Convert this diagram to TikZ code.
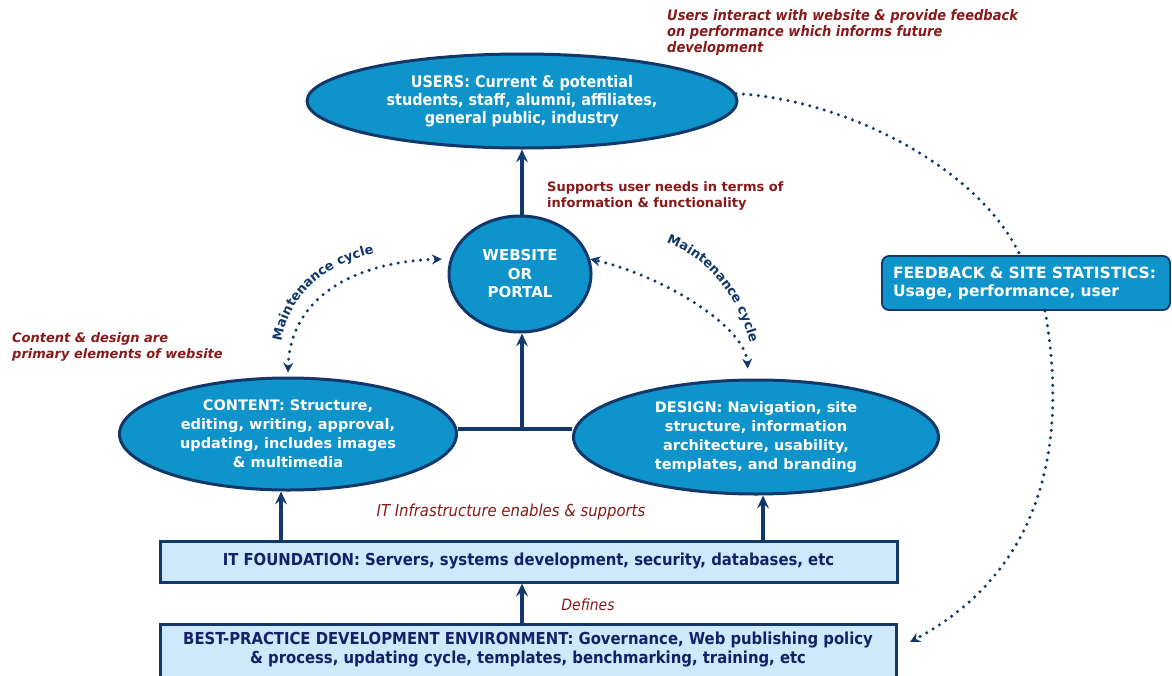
\documentclass[tikz,border=0pt]{standalone}
\usepackage{fontspec}
\setmainfont{DejaVu Sans}
\newfontfamily\cond{DejaVu Sans Condensed}
\usetikzlibrary{shapes.geometric,arrows.meta,decorations.text}
\definecolor{navy}{RGB}{18,56,107}
\definecolor{ellfill}{RGB}{14,148,202}
\definecolor{boxfill}{RGB}{205,233,251}
\definecolor{txtnavy}{RGB}{20,32,104}
\definecolor{darkred}{RGB}{135,25,25}
\newcommand\mclabelfont{\bfseries\fontsize{13}{15}\selectfont}
\begin{document}
\begin{tikzpicture}[x=1pt,y=-1pt,
  ell/.style={ellipse, draw=navy, line width=3pt, fill=ellfill, text=white, inner sep=0pt, align=center},
  fontv/.style={font=\bfseries\fontsize{14.5}{19}\selectfont},
  fontc/.style={font=\cond\bfseries\fontsize{16}{18}\selectfont},
  box/.style={rectangle, draw=navy, line width=3pt, fill=boxfill, text=txtnavy, align=center, font=\cond\bfseries\fontsize{16.5}{19}\selectfont},
  fbbox/.style={rectangle, rounded corners=7pt, draw=navy, line width=1.8pt, fill=ellfill, text=white, align=left, font=\bfseries\fontsize{15.5}{18}\selectfont},
  note/.style={text=darkred, align=left, inner sep=0pt},
  mclabel/.style={decorate, decoration={text along path, text={|\mclabelfont|Maintenance cycle}, text align=center, text color=navy}},
  line/.style={draw=navy, line width=3.4pt},
  arr/.style={line, -{Stealth[length=13pt,width=12pt,inset=5pt]}},
  dotted line/.style={draw=navy, line width=3.4pt, line cap=round, dash pattern=on 0pt off 7.5pt},
  dotarr/.style={dotted line, -{Stealth[length=10pt,width=10pt,inset=3.5pt]}},
  dotarrs/.style={dotted line, {Stealth[length=10pt,width=10pt,inset=3.5pt]}-{Stealth[length=10pt,width=10pt,inset=3.5pt]}}
]
\useasboundingbox (0,0) rectangle (1172,675);
\clip (0,0) rectangle (1172,675);

% ellipses
\node[ell, fontc, minimum width=430pt, minimum height=94pt] (users) at (522,101)
  {USERS: Current \& potential\\students, staff, alumni, affiliates,\\general public, industry};
\node[ell, font=\bfseries\fontsize{15}{18.5}\selectfont, minimum width=142pt, minimum height=116pt] (web) at (520,274)
  {WEBSITE\\OR\\PORTAL};
\node[ell, fontv, minimum width=337pt, minimum height=112pt] (content) at (288,434)
  {CONTENT: Structure,\\editing, writing, approval,\\updating, includes images\\\& multimedia};
\node[ell, fontv, minimum width=365pt, minimum height=114pt] (design) at (756,437)
  {DESIGN: Navigation, site\\structure, information\\architecture, usability,\\templates, and branding};

% boxes
\node[box, minimum width=737pt, minimum height=41pt] (it) at (528.5,561.5)
  {IT FOUNDATION: Servers, systems development, security, databases, etc};
\node[box, anchor=north, minimum width=736pt, inner ysep=7.5pt, text depth=30pt] (best) at (528,623)
  {BEST-PRACTICE DEVELOPMENT ENVIRONMENT: Governance, Web publishing policy\\\& process, updating cycle, templates, benchmarking, training, etc};
\node[fbbox, minimum width=288pt, minimum height=54pt, text width=266pt] (fb) at (1026,283)
  {FEEDBACK \& SITE STATISTICS:\\Usage, performance, user};

% notes
\node[note, anchor=west, font=\cond\bfseries\itshape\fontsize{14.5}{16}\selectfont] (n1) at (667,32)
  {Users interact with website \& provide feedback\\on performance which informs future\\development};
\node[note, anchor=west, font=\bfseries\fontsize{13}{16}\selectfont] (n2) at (547,196)
  {Supports user needs in terms of\\information \& functionality};
\node[note, anchor=west, font=\bfseries\itshape\fontsize{13}{16}\selectfont] (n3) at (12,347)
  {Content \& design are\\primary elements of website};
\node[note, font=\cond\itshape\fontsize{16.5}{18}\selectfont] (n4) at (511,512)
  {IT Infrastructure enables \& supports};
\node[note, font=\cond\itshape\fontsize{15.5}{18}\selectfont] (n5) at (588,605)
  {Defines};

% solid connectors
\coordinate (junc) at (522,429);
\draw[arr] (junc |- web.north) -- (junc |- users.south);
\draw[line] (content.east |- junc) -- (design.west |- junc);
\draw[arr] (junc) -- (junc |- web.south);
\draw[arr] ([xshift=-7pt]it.north -| content.south) -- ([xshift=-7pt]content.south);
\draw[arr] ([xshift=7pt]it.north -| design.south) -- ([xshift=7pt]design.south);
\draw[arr] (best.north -| junc) -- (junc |- it.south);

% maintenance cycles
\draw[dotarrs] ([yshift=4pt]content.north) .. controls (290,300) and (350,262) .. ([xshift=-8pt]web.168);
\draw[dotarrs] ([yshift=10pt]design.98) .. controls (745,325) and (660,275) .. (web.12);
\path[mclabel] (281,345) .. controls (286,298) and (325,262) .. (378,253);
\path[mclabel] (658,240) .. controls (705,254) and (740,295) .. (752,352);

% feedback loop
\coordinate (fbend) at (910,642);
\draw[dotted line] (users.2) .. controls (850,100) and (980,170) .. ([xshift=-6pt]fb.north);
\draw[dotarr] ([xshift=19pt]fb.south) .. controls (1068,440) and (1045,570) .. (fbend);
\end{tikzpicture}
\end{document}
